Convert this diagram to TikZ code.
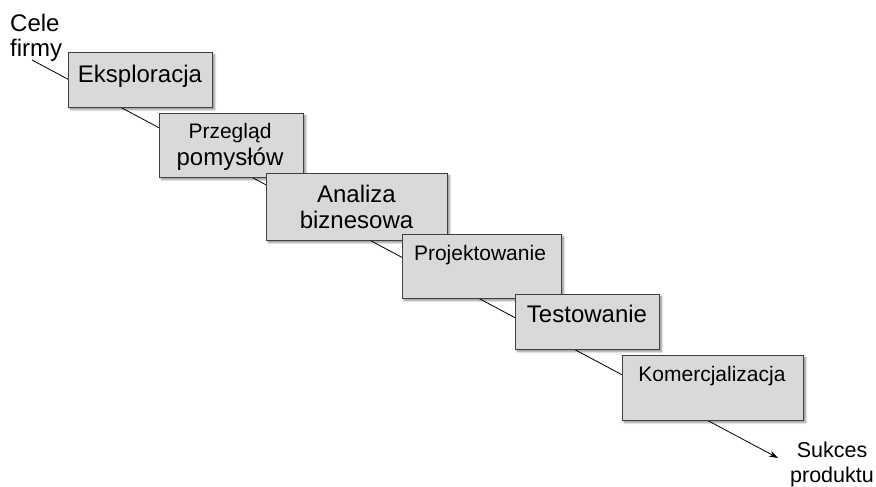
\documentclass[tikz,border=0pt]{standalone}
\usepackage{fontspec}
\setmainfont{Liberation Sans}
\usetikzlibrary{arrows.meta,shadows.blur}
\definecolor{boxfill}{HTML}{D9D9D9}
\definecolor{boxline}{HTML}{404040}
\begin{document}
\begin{tikzpicture}[x=1pt,y=-1pt,
  stage/.style={draw=boxline, line width=0.9pt, fill=boxfill, inner sep=0pt,
    blur shadow={shadow xshift=2.5pt, shadow yshift=-2.5pt, shadow blur steps=6, shadow opacity=45}},
  lbl/.style={inner sep=0pt, anchor=base, align=center},
  big/.style={font=\fontsize{24}{25}\selectfont},
  mid/.style={font=\fontsize{21}{24}\selectfont},
  sml/.style={font=\fontsize{21.5}{25}\selectfont},
  flow/.style={line width=0.8pt, -{Stealth[length=9pt,width=6pt]}}]
\useasboundingbox (0,0) rectangle (876,487);
\coordinate (start) at (32,60);
\coordinate (finish) at (778,458);
\draw[flow] (start) -- (finish);
\node[lbl, anchor=base west, align=left, font=\fontsize{24}{25}\selectfont] (cele) at (10,57) {Cele\\firmy};
\node[lbl, sml] (sukces) at (832,482) {Sukces\\produktu};
\node[stage, minimum width=144pt, minimum height=55pt] (b1) at (140,79.5) {};
\node[lbl, big] (t1) at (140,82) {Eksploracja};
\node[stage, minimum width=144pt, minimum height=64pt] (b2) at (231,145) {};
\node[lbl, mid] (t2a) at (230,138) {Przegląd};
\node[lbl, big] (t2b) at (230,165) {pomysłów};
\node[stage, minimum width=181pt, minimum height=67pt] (b3) at (356.5,206.5) {};
\node[lbl, big] (t3a) at (356.5,202) {Analiza};
\node[lbl, big] (t3b) at (356.5,228) {biznesowa};
\node[stage, minimum width=159pt, minimum height=64pt] (b4) at (481.5,266) {};
\node[lbl, mid] (t4) at (480,260) {Projektowanie};
\node[stage, minimum width=144pt, minimum height=55pt] (b5) at (587,321.5) {};
\node[lbl, big] (t5) at (587,322) {Testowanie};
\node[stage, minimum width=181pt, minimum height=65pt] (b6) at (712.5,387.5) {};
\node[lbl, mid] (t6) at (712,381) {Komercjalizacja};
\end{tikzpicture}
\end{document}
